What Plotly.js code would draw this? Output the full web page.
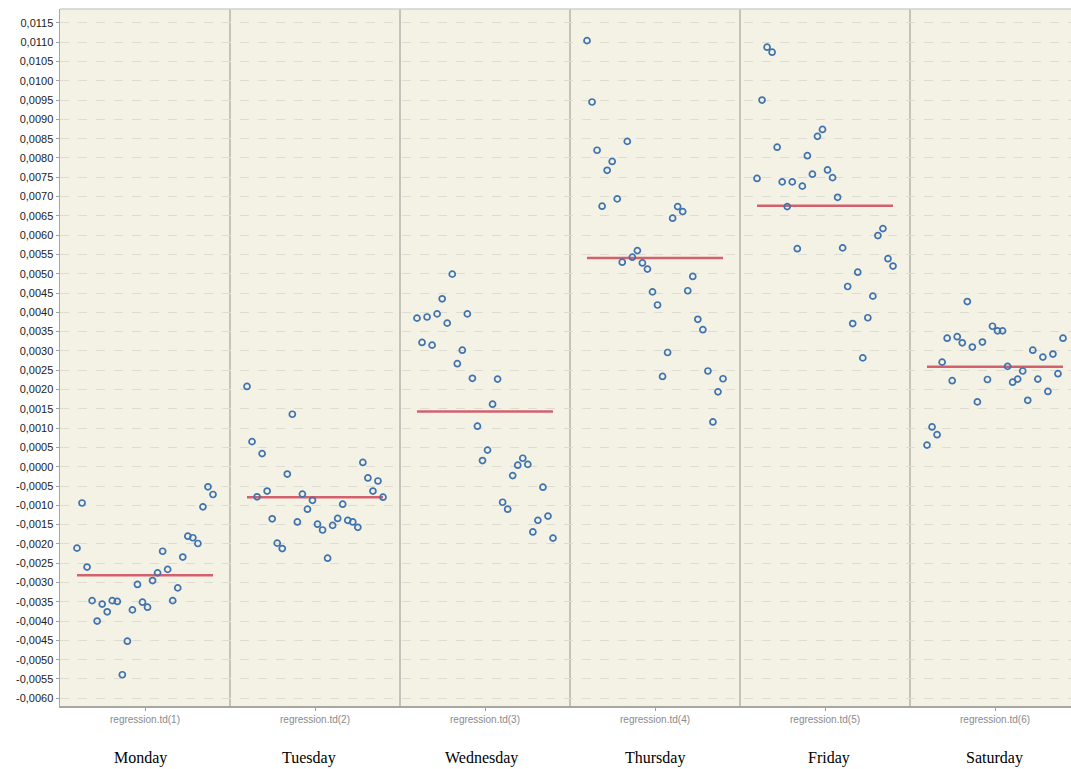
<!DOCTYPE html>
<html>
<head>
<meta charset="utf-8">
<script src="https://cdn.plot.ly/plotly-3.0.1.min.js"></script>
<style>
  html, body { margin: 0; padding: 0; background: #ffffff; }
  #chart { width: 1071px; height: 769px; }
</style>
</head>
<body>
<div id="chart"></div>
<script>
// ---- Data ----
const days = ["Monday", "Tuesday", "Wednesday", "Thursday", "Friday", "Saturday"];
const tickLabels = ["regression.td(1)", "regression.td(2)", "regression.td(3)", "regression.td(4)", "regression.td(5)", "regression.td(6)"];

const monday = [-0.00211, -0.00094, -0.00260, -0.00347, -0.00400, -0.00356, -0.00376, -0.00347,
  -0.00349, -0.00539, -0.00452, -0.00371, -0.00305, -0.00351, -0.00364, -0.00295,
  -0.00275, -0.00219, -0.00266, -0.00347, -0.00314, -0.00234, -0.00180, -0.00184,
  -0.00199, -0.00104, -0.00052, -0.00072];
const tuesday = [0.00208, 0.00065, -0.00078, 0.00034, -0.00063, -0.00135, -0.00198, -0.00212,
  -0.00019, 0.00136, -0.00143, -0.00071, -0.00110, -0.00087, -0.00149, -0.00164,
  -0.00237, -0.00152, -0.00134, -0.00097, -0.00139, -0.00143, -0.00157, 0.00011,
  -0.00029, -0.00063, -0.00037, -0.00079];
const wednesday = [0.00385, 0.00322, 0.00388, 0.00315, 0.00396, 0.00435, 0.00372, 0.00499,
  0.00267, 0.00302, 0.00396, 0.00229, 0.00105, 0.00016, 0.00043, 0.00162,
  0.00227, -0.00092, -0.00110, -0.00023, 0.00004, 0.00022, 0.00006, -0.00169,
  -0.00139, -0.00053, -0.00128, -0.00185];
const thursday = [0.01104, 0.00945, 0.00820, 0.00675, 0.00768, 0.00791, 0.00694, 0.00530,
  0.00843, 0.00543, 0.00560, 0.00528, 0.00512, 0.00453, 0.00419, 0.00234,
  0.00296, 0.00644, 0.00674, 0.00661, 0.00456, 0.00493, 0.00382, 0.00355,
  0.00248, 0.00116, 0.00194, 0.00228];
const friday = [0.00747, 0.00950, 0.01087, 0.01074, 0.00828, 0.00738, 0.00674, 0.00738,
  0.00565, 0.00727, 0.00806, 0.00758, 0.00856, 0.00874, 0.00769, 0.00749,
  0.00698, 0.00567, 0.00467, 0.00371, 0.00504, 0.00282, 0.00386, 0.00442,
  0.00599, 0.00617, 0.00539, 0.00520];
const saturday = [0.00056, 0.00103, 0.00083, 0.00271, 0.00333, 0.00223, 0.00337, 0.00321,
  0.00428, 0.00310, 0.00168, 0.00323, 0.00226, 0.00364, 0.00352, 0.00352,
  0.00260, 0.00219, 0.00227, 0.00248, 0.00172, 0.00302, 0.00227, 0.00284,
  0.00195, 0.00292, 0.00241, 0.00333];
const means = [-0.00281, -0.00079, 0.00143, 0.00541, 0.00676, 0.00259];

// ---- Build traces ----
const series = [monday, tuesday, wednesday, thursday, friday, saturday];
const spread = 0.8;           // horizontal spread of points within one panel
const traces = [];
series.forEach((vals, k) => {
  const center = k + 1;
  const n = vals.length;
  const xs = vals.map((_, j) => center - spread / 2 + j * spread / (n - 1));
  traces.push({
    x: [xs[0], xs[n - 1]],
    y: [means[k], means[k]],
    type: "scatter",
    mode: "lines",
    line: { color: "#d4606e", width: 2.5 },
    hoverinfo: "skip",
    showlegend: false
  });
  traces.push({
    x: xs,
    y: vals,
    type: "scatter",
    mode: "markers",
    marker: { symbol: "circle-open", size: 6, color: "#3f73b0", line: { width: 1.7, color: "#3f73b0" } },
    name: days[k],
    showlegend: false
  });
});

// ---- Y ticks (comma decimal separator) ----
const yTickVals = [];
const yTickText = [];
for (let i = -12; i <= 23; i++) {
  const v = i * 0.0005;
  yTickVals.push(v);
  yTickText.push((v < 0 ? "-" : "") + Math.abs(v).toFixed(4).replace(".", ","));
}

// ---- Panel dividers ----
const shapes = [];
for (let k = 1; k < days.length; k++) {
  shapes.push({
    type: "line", xref: "x", yref: "paper",
    x0: k + 0.5, x1: k + 0.5, y0: 0, y1: 1,
    line: { color: "#b3b3aa", width: 1.5 },
    layer: "below"
  });
}
// top frame line
shapes.push({
  type: "line", xref: "paper", yref: "paper",
  x0: 0, x1: 1, y0: 1, y1: 1,
  line: { color: "#d0d0cc", width: 1.5 }
});

// ---- Day name annotations (caption under the chart) ----
const captionShift = [-5, -6, -4, 0, 4, -1];
const annotations = days.map((d, k) => ({
  x: k + 1, xref: "x", y: 0, yref: "paper",
  yanchor: "middle", yshift: -52, xshift: captionShift[k],
  text: d, showarrow: false,
  font: { family: "Liberation Serif, Times New Roman, serif", size: 16, color: "#000000" }
}));

const layout = {
  width: 1071,
  height: 769,
  margin: { l: 60, r: 0, t: 9, b: 63 },
  paper_bgcolor: "#ffffff",
  plot_bgcolor: "#f4f2e5",
  showlegend: false,
  xaxis: {
    range: [0.5, 6.447],
    tickvals: [1, 2, 3, 4, 5, 6],
    ticktext: tickLabels,
    ticks: "outside",
    ticklen: 3,
    tickcolor: "#a0a0a0",
    tickfont: { family: "Liberation Sans, Arial, sans-serif", size: 10, color: "#8a8a8a" },
    showgrid: false,
    zeroline: false,
    showline: true,
    linecolor: "#a8a8a0",
    linewidth: 1.5,
    fixedrange: true
  },
  yaxis: {
    range: [-0.0062, 0.01186],
    tickvals: yTickVals,
    ticktext: yTickText,
    ticks: "outside",
    ticklen: 3,
    tickcolor: "#a0a0a0",
    tickfont: { family: "Liberation Sans, Arial, sans-serif", size: 11, color: "#222222" },
    showgrid: true,
    gridcolor: "#dcdcd2",
    griddash: "dash",
    gridwidth: 1,
    zeroline: false,
    showline: true,
    linecolor: "#a8a8a0",
    linewidth: 1.5,
    fixedrange: true
  },
  shapes: shapes,
  annotations: annotations
};

Plotly.newPlot("chart", traces, layout, { displayModeBar: false, staticPlot: true });
</script>
</body>
</html>
